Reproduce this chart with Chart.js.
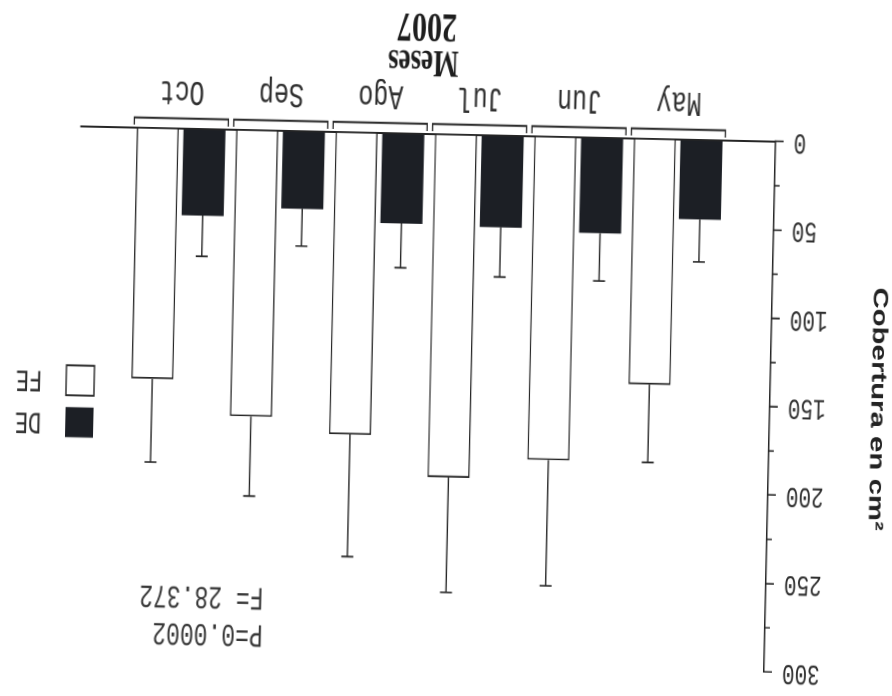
<!DOCTYPE html>
<html>
<head>
<meta charset="utf-8">
<script src="https://cdn.jsdelivr.net/npm/chart.js@4.4.1/dist/chart.umd.min.js"></script>
<style>
  html, body { margin: 0; padding: 0; background: #fff; overflow: hidden; }
  #wrap { position: relative; width: 892px; height: 696px; overflow: hidden; background: #fff; }
  #c {
    position: absolute; left: 0; top: 99.5px;
    transform: rotate(181.26deg) scaleY(1.4004);
    transform-origin: 50% 50%;
  }
</style>
</head>
<body>
<div id="wrap"><canvas id="c" width="892" height="497"></canvas></div>
<script>
// Monthly cover (cm²), 2007: mean and one-sided error for each treatment
const months   = ['May', 'Jun', 'Jul', 'Ago', 'Sep', 'Oct'];
const deMeans  = [45, 54, 52, 51, 44, 49];
const deErrors = [24, 27, 28, 25, 21, 23];
const feMeans  = [139, 183, 194, 171, 162, 142];
const feErrors = [44, 71, 65, 69, 45, 47];
const seriesNames = ['DE', 'FE'];
const statLines = ['P=0.0002', 'F= 28.372'];
const xTitleLines = ['Meses', '2007'];
const yMax = 300, yStep = 50, yMinorStep = 25;

const STRETCH = 696 / 497;          // vertical stretch applied to the canvas by CSS
const MID = 497 / 2;
const toCanvasY = v => MID + (v - 348) / STRETCH;
const ink = '#262626';
const mono = "'Liberation Mono', 'DejaVu Sans Mono', monospace";

const decor = {
  id: 'decor',
  afterDatasetsDraw(chart) {
    const ctx = chart.ctx, xs = chart.scales.x, ys = chart.scales.y, area = chart.chartArea;
    ctx.save();
    ctx.strokeStyle = ink;

    // one-sided error bars above each bar
    [[deMeans, deErrors], [feMeans, feErrors]].forEach(([vals, errs], di) => {
      chart.getDatasetMeta(di).data.forEach((bar, i) => {
        const top = ys.getPixelForValue(vals[i] + errs[i]);
        ctx.lineWidth = 1.4;
        ctx.beginPath(); ctx.moveTo(bar.x, bar.y); ctx.lineTo(bar.x, top); ctx.stroke();
        ctx.lineWidth = 1.2;
        ctx.beginPath(); ctx.moveTo(bar.x - 6, top); ctx.lineTo(bar.x + 6, top); ctx.stroke();
      });
    });

    // minor ticks on the value axis
    ctx.lineWidth = 1.1;
    for (let v = yMinorStep; v < yMax; v += yStep) {
      const py = ys.getPixelForValue(v);
      ctx.beginPath(); ctx.moveTo(area.left - 5, py); ctx.lineTo(area.left, py); ctx.stroke();
    }

    // bracket under each month group
    const by = area.bottom + 10 / STRETCH, bt = area.bottom + 3 / STRETCH;
    ctx.lineWidth = 1.3;
    months.forEach((m, i) => {
      const cx = xs.getPixelForValue(i);
      ctx.beginPath();
      ctx.moveTo(cx - 47, bt); ctx.lineTo(cx - 47, by);
      ctx.lineTo(cx + 47, by); ctx.lineTo(cx + 47, bt);
      ctx.stroke();
    });

    // category axis title, two lines
    ctx.fillStyle = '#1e1e1e';
    ctx.textAlign = 'center';
    ctx.textBaseline = 'middle';
    ctx.font = "bold 27px 'Liberation Serif', serif";
    ctx.fillText(xTitleLines[0], 475, toCanvasY(635));
    ctx.font = "bold 30px 'Liberation Serif', serif";
    ctx.fillText(xTitleLines[1], 472, toCanvasY(671));

    // legend
    const boxW = 28, boxH = 30 / STRETCH;
    const legendY = [266, 308].map(toCanvasY);
    ctx.font = '22px ' + mono;
    ctx.textAlign = 'left';
    seriesNames.forEach((name, i) => {
      const cy = legendY[i];
      if (i === 0) {
        ctx.fillStyle = '#1c1f25';
        ctx.fillRect(797, cy - boxH / 2, boxW, boxH);
      } else {
        ctx.fillStyle = '#fff';
        ctx.fillRect(797, cy - boxH / 2, boxW, boxH);
        ctx.lineWidth = 1.4;
        ctx.strokeRect(797, cy - boxH / 2, boxW, boxH);
      }
      ctx.fillStyle = '#303030';
      ctx.fillText(name, 849, cy);
    });

    // test statistics
    ctx.font = '23px ' + mono;
    ctx.fillStyle = '#383838';
    [59, 96].forEach((v, i) => ctx.fillText(statLines[i], 623, toCanvasY(v)));
    ctx.restore();
  }
};

const toPoints = vals => vals.map((v, i) => ({ x: i, y: v }));

new Chart(document.getElementById('c'), {
  type: 'bar',
  data: {
    datasets: [
      {
        label: seriesNames[0], data: toPoints(deMeans),
        backgroundColor: '#1c1f25', borderColor: '#1c1f25', borderWidth: 0
      },
      {
        label: seriesNames[1], data: toPoints(feMeans),
        backgroundColor: '#ffffff', borderColor: ink, borderWidth: 1.4
      }
    ]
  },
  options: {
    responsive: false,
    animation: false,
    devicePixelRatio: 2,
    categoryPercentage: 0.94,
    barPercentage: 0.9,
    layout: { padding: { left: 0, right: 76, top: 16, bottom: 0 } },
    plugins: { legend: { display: false }, tooltip: { enabled: false } },
    scales: {
      x: {
        type: 'linear', min: -0.98, max: 6.01, offset: false,
        afterBuildTicks: s => { s.ticks = months.map((m, i) => ({ value: i })); },
        afterFit: s => { s.height = 497 - 401.4; },
        ticks: {
          callback: v => months[v],
          font: { family: mono, size: 25 }, color: '#303030',
          padding: 12, autoSkip: false, maxRotation: 0
        },
        grid: { drawOnChartArea: false, drawTicks: false },
        border: { display: true, color: ink, width: 1.5 }
      },
      y: {
        min: 0, max: yMax,
        afterFit: s => { s.width = 121; },
        ticks: { stepSize: yStep, font: { family: mono, size: 21 }, color: '#303030', padding: 10 },
        grid: { drawOnChartArea: false, drawTicks: true, tickLength: 8, color: ink, lineWidth: 1.2 },
        border: { display: true, color: ink, width: 1.5 },
        title: {
          display: true, text: 'Cobertura en cm²', color: '#222',
          font: { family: "'Liberation Sans', sans-serif", size: 21, weight: 'bold' },
          padding: { top: 1, bottom: 0 }
        }
      }
    }
  },
  plugins: [decor]
});
</script>
</body>
</html>
